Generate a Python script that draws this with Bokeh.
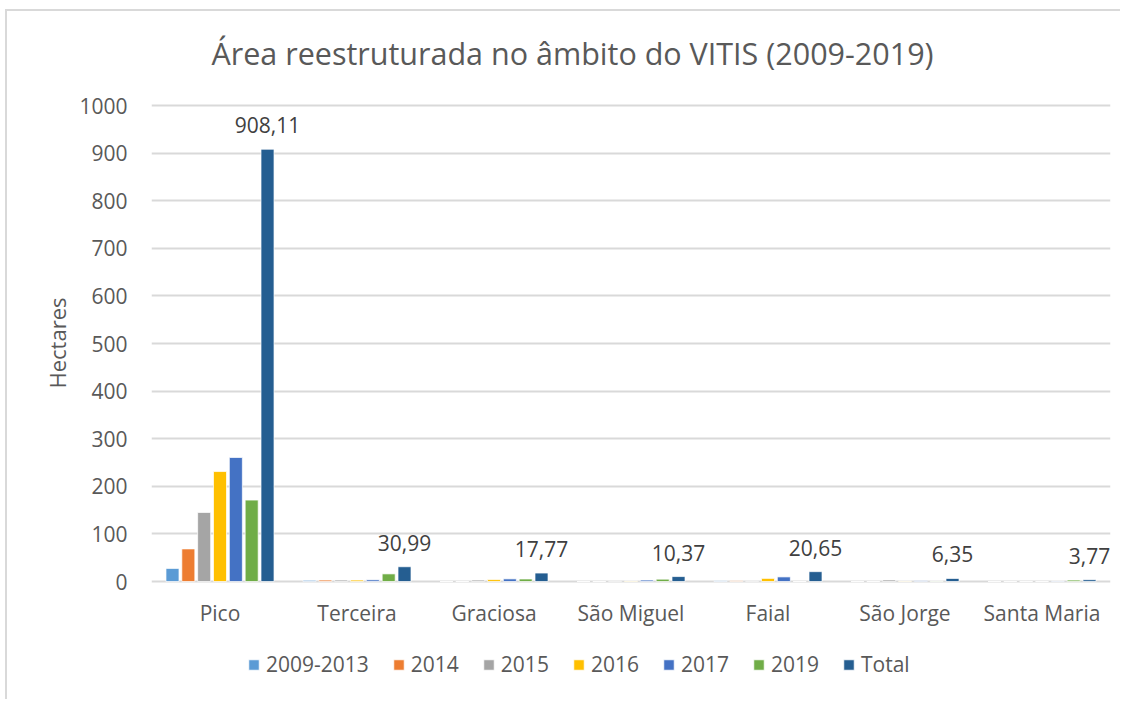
from bokeh.plotting import figure
from bokeh.models import (ColumnDataSource, FactorRange, FixedTicker, Legend, LegendItem, Range1d,
                          Title)
from bokeh.transform import dodge
from bokeh.core.properties import value
from bokeh.embed import file_html
from bokeh.resources import INLINE

islands = ["Pico", "Terceira", "Graciosa", "São Miguel", "Faial", "São Jorge", "Santa Maria"]
series = ["2009-2013", "2014", "2015", "2016", "2017", "2019", "Total"]
v_2009_2013 = [27.5, 2.5, 0.0, 0.0, 1.5, 0.0, 0.0]
v_2014 = [68.5, 3.0, 0.0, 0.0, 1.5, 0.0, 0.0]
v_2015 = [145.0, 3.0, 3.0, 1.5, 1.5, 3.2, 0.0]
v_2016 = [231.0, 3.0, 4.0, 1.0, 6.5, 0.8, 0.0]
v_2017 = [260.5, 3.5, 5.5, 3.0, 9.65, 1.5, 0.87]
v_2019 = [171.0, 16.0, 5.27, 4.87, 0.0, 0.85, 2.9]
v_total = [908.11, 30.99, 17.77, 10.37, 20.65, 6.35, 3.77]
total_labels = ["908,11", "30,99", "17,77", "10,37", "20,65", "6,35", "3,77"]
colors = ["#5B9BD5", "#ED7D31", "#A5A5A5", "#FFC000", "#4472C4", "#70AD47", "#255E91"]
y_ticks = [0, 100, 200, 300, 400, 500, 600, 700, 800, 900, 1000]
title_text = "Área reestruturada no âmbito do VITIS (2009-2019)"

values = [v_2009_2013, v_2014, v_2015, v_2016, v_2017, v_2019, v_total]
keys = ["s0", "s1", "s2", "s3", "s4", "s5", "s6"]
data = {"island": islands, "label": total_labels, "zero": [0] * len(islands)}
for k, v in zip(keys, values):
    data[k] = v
src = ColumnDataSource(data)

FONT = "Open Sans"
GREY = "#595959"
LINE = "#D9D9D9"

# frame: value 0 -> 581 px, 1000 -> 105 px from the top; extended up and down so that
# the title, category labels and legend live inside it
W, H = 1127, 699
px_per_unit = 476 / 1000
y_low = -(H - 581) / px_per_unit
y_high = 1000 + 105 / px_per_unit

page_lines = (f"linear-gradient({LINE},{LINE}) 5px 9px / 2px 700px no-repeat, "
              f"linear-gradient({LINE},{LINE}) 5px 9px / 1115px 2px no-repeat, white")

p = figure(width=W, height=H, x_range=FactorRange(*islands), y_range=Range1d(y_low, y_high),
           output_backend="svg", toolbar_location=None, tools="",
           min_border_left=151, min_border_right=W - 1110, min_border_top=0, min_border_bottom=0,
           styles={"background": page_lines})
p.x_range.range_padding = 0
p.outline_line_color = None
p.background_fill_alpha = 0
p.border_fill_alpha = 0

step = 0.1156
bw = 0.095
items = []
for i, (k, s, c) in enumerate(zip(keys, series, colors)):
    r = p.vbar(x=dodge("island", (i - 3) * step, range=p.x_range), top=k, width=bw,
               source=src, fill_color=c, line_color="white", line_alpha=0.7, line_width=1)
    items.append(LegendItem(label=s, renderers=[r]))

# value labels above the Total bars
p.text(x=dodge("island", 3 * step, range=p.x_range), y="s6", text="label", source=src,
       text_align="center", text_baseline="bottom", y_offset=-16,
       text_font=value(FONT), text_font_size="21px", text_color="#404040")

# category labels under the baseline
p.text(x="island", y="zero", text="island", source=src,
       text_align="center", text_baseline="middle", y_offset=31,
       text_font=value(FONT), text_font_size="21px", text_color=GREY)

# chart title, above the 1000 line
p.text(x=[islands[3]], y=[y_ticks[-1]], text=[title_text], x_offset=-58.5, y_offset=-53,
       text_align="center", text_baseline="middle",
       text_font=value(FONT), text_font_size="30.5px", text_color=GREY)

# axes
p.xaxis.visible = False
p.yaxis.ticker = FixedTicker(ticks=y_ticks)
p.yaxis.bounds = (0, 1000)
p.yaxis.axis_line_color = None
p.yaxis.major_tick_line_color = None
p.yaxis.minor_tick_line_color = None
p.yaxis.major_label_standoff = 18
p.yaxis.major_label_text_font = FONT
p.yaxis.major_label_text_font_size = "21px"
p.yaxis.major_label_text_color = GREY

# y-axis title, placed along the 0..1000 part of the frame
p.add_layout(Title(text="Hectares", align="left", offset=311, standoff=9,
                   text_font=FONT, text_font_size="22px", text_font_style="normal",
                   text_color=GREY), "left")

p.xgrid.grid_line_color = None
p.ygrid.ticker = FixedTicker(ticks=y_ticks)
p.ygrid.grid_line_color = LINE
p.ygrid.grid_line_width = 2

legend = Legend(items=items, orientation="horizontal", location=(96, 21),
                glyph_width=13, glyph_height=13, label_standoff=6, spacing=23,
                label_text_font=FONT, label_text_font_size="21px", label_text_color=GREY,
                border_line_color=None, background_fill_alpha=0, padding=0, margin=0)
p.add_layout(legend, "center")

open("out.html", "w").write(file_html(p, INLINE))
